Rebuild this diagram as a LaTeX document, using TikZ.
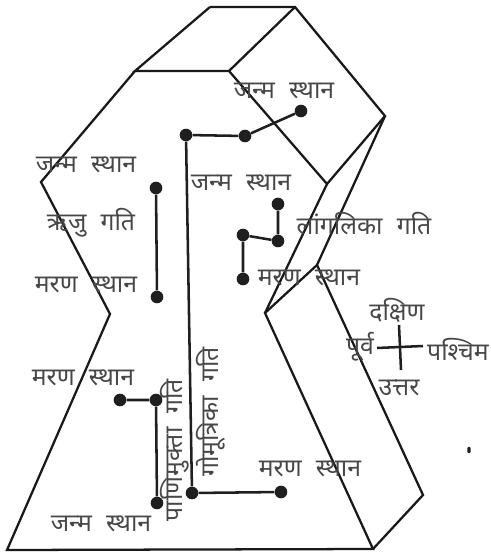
\documentclass[tikz,border=0pt]{standalone}
\usepackage{fontspec}
\newfontfamily\deva[Script=Devanagari,WordSpace=2.2]{Noto Sans}
\begin{document}
\begin{tikzpicture}[x=0.75pt,y=-0.75pt,
  edge/.style={line width=1.7pt,draw=black!90,line join=miter},
  link/.style={line width=1.9pt,draw=black!88},
  dot/.style={circle,fill=black!88,inner sep=0pt,minimum size=9.5pt},
  speckmark/.style={rectangle,rounded corners=0.8pt,fill=black!88,minimum width=2.6pt,minimum height=4.6pt,inner sep=0pt},
  lbl/.style={inner sep=0pt,text=black!72,font=\deva\fontsize{18.6}{20}\selectfont}]
\useasboundingbox (0,0) rectangle (490,552);
\coordinate (A) at (210,7);
\coordinate (B) at (295,7);
\coordinate (C) at (135,71);
\coordinate (D) at (229,71);
\coordinate (E) at (385,116);
\coordinate (F) at (327,184);
\coordinate (G) at (41,182);
\coordinate (H) at (110,314);
\coordinate (I) at (7,550);
\coordinate (J) at (373,549);
\coordinate (K) at (265,313);
\coordinate (L) at (423,495);
\coordinate (M) at (317,265);
\draw[edge] (A) -- (B) -- (E) -- (F) -- (D) -- (C) -- (A);
\draw[edge] (D) -- (B);
\draw[edge] (C) -- (G) -- (H) -- (I) -- (J) -- (K) -- (M) -- (L) -- (J);
\draw[edge] (F) -- (K);
\draw[edge] (E) -- (M);
% labels
\node[lbl] (l1) at (86,165) {जन्म स्थान};
\node[lbl] (l2) at (91,223) {ऋजु गति};
\node[lbl] (l3) at (86,285) {मरण स्थान};
\node[lbl] (l4) at (83,378) {मरण स्थान};
\node[lbl] (l5) at (101,524) {जन्म स्थान};
\node[lbl] (l6) at (284,91) {जन्म स्थान};
\node[lbl] (l7) at (241,183) {जन्म स्थान};
\node[lbl] (l8) at (364,224) {लांगलिका गति};
\node[lbl] (l9) at (309,278) {मरण स्थान};
\node[lbl] (l10) at (310,469) {मरण स्थान};
\node[lbl,rotate=90] (l11) at (211,412) {गोमूत्रिका गति};
\node[lbl,rotate=90] (l12) at (175,450) {पाणिमुक्ता गति};
\node[lbl] (n) at (397,310) {दक्षिण};
\node[lbl] (w) at (360,347) {पूर्व};
\node[lbl] (e) at (458,349) {पश्चिम};
\node[lbl] (s) at (399,388) {उत्तर};
% dots
\node[dot] (a1) at (186,135) {};
\node[dot] (a2) at (245,136) {};
\node[dot] (a3) at (301,111) {};
\node[dot] (a4) at (192,493) {};
\node[dot] (a5) at (281,492) {};
\node[dot] (b1) at (156,188) {};
\node[dot] (b2) at (157,297) {};
\node[dot] (c1) at (120,400) {};
\node[dot] (c2) at (156,400) {};
\node[dot] (c3) at (157,503) {};
\node[dot] (d1) at (278,204) {};
\node[dot] (d2) at (278,241) {};
\node[dot] (d3) at (243,235) {};
\node[dot] (d4) at (243,279) {};
\draw[link] (a3) -- (a2) -- (a1) -- (a4) -- (a5);
\draw[link] (b1) -- (b2);
\draw[link] (c1) -- (c2) -- (c3);
\draw[link] (d1) -- (d2) -- (d3) -- (d4);
% compass
\coordinate (cn) at (399,325);
\coordinate (cs) at (401,370);
\coordinate (cw) at (377,348);
\coordinate (ce) at (423,346);
\draw[link] (cn) -- (cs);
\draw[link] (cw) -- (ce);
\node[speckmark] (speck) at (469,450) {};
\end{tikzpicture}
\end{document}
